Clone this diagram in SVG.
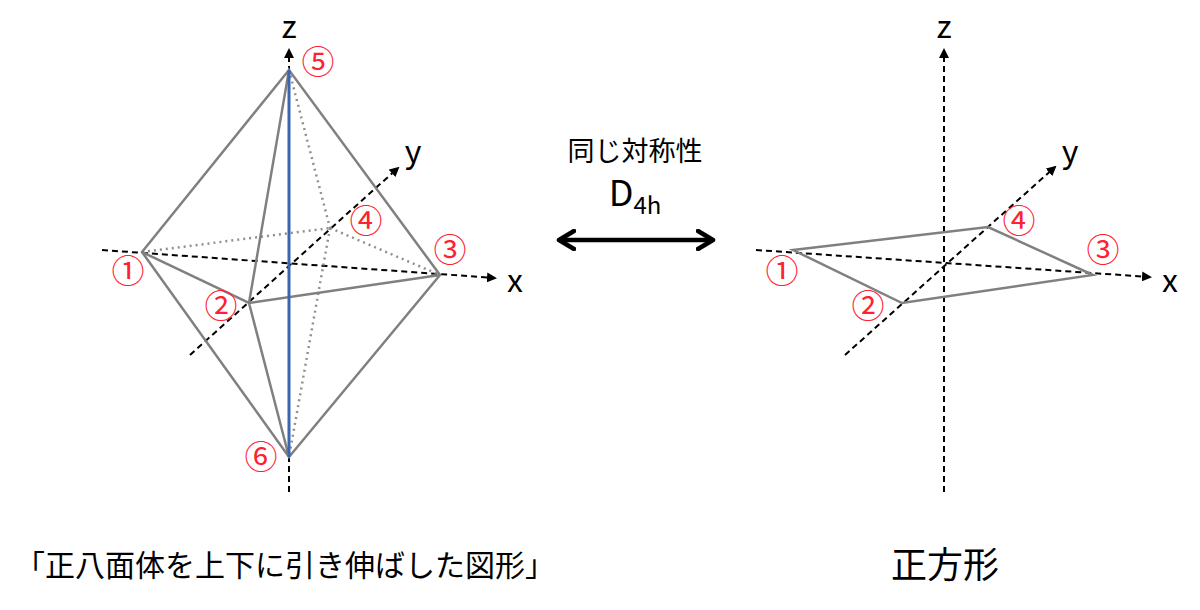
<svg xmlns="http://www.w3.org/2000/svg" width="1200" height="610" viewBox="0 0 1200 610">
<style>
text{font-family:"Noto Sans CJK JP","Noto Sans",sans-serif}
.ax{stroke:#000;stroke-width:2;stroke-dasharray:6,4;fill:none}
.e{stroke:#808080;stroke-width:2.5;fill:none}
.d{stroke:#909090;stroke-width:2.5;stroke-dasharray:2,4;fill:none}
.n{fill:#ff2030;font-size:33px;text-anchor:middle}
.a{fill:#000;font-size:32px;text-anchor:middle}
</style>
<defs>
<marker id="ah" markerWidth="10" markerHeight="10" refX="8" refY="5" orient="auto" markerUnits="userSpaceOnUse"><path d="M0,0L10,5L0,10z" fill="#000"/></marker>
<marker id="bh" markerWidth="20" markerHeight="22" refX="16" refY="11" orient="auto-start-reverse" markerUnits="userSpaceOnUse"><path d="M2,2L17,11L2,20" fill="none" stroke="#000" stroke-width="4.5" stroke-linecap="round" stroke-linejoin="round"/></marker>
</defs>
<g id="connectors">
<line class="ax" x1="102" y1="250" x2="495" y2="278" marker-end="url(#ah)"/>
<line class="ax" x1="190" y1="355" x2="398" y2="168" marker-end="url(#ah)"/>
<line class="ax" x1="289" y1="492" x2="289" y2="50" marker-end="url(#ah)"/>
<line class="d" x1="289" y1="70" x2="330" y2="228"/>
<line class="d" x1="330" y1="228" x2="289" y2="457"/>
<line class="d" x1="142" y1="252" x2="330" y2="228"/>
<line class="d" x1="330" y1="228" x2="440" y2="275"/>
<path class="e" d="M289,70L142,252L289,457L440,275L289,70L249,303L289,457M142,252L249,303L440,275"/>
<line x1="289" y1="70" x2="289" y2="457" stroke="#3a66b0" stroke-width="3"/>
<line class="ax" x1="756" y1="250" x2="1150" y2="277" marker-end="url(#ah)"/>
<line class="ax" x1="845" y1="355" x2="1055" y2="167" marker-end="url(#ah)"/>
<line class="ax" x1="944" y1="492" x2="944" y2="50" marker-end="url(#ah)"/>
<path class="e" d="M793,250L902,303L1093,275L988,227z"/>
<line x1="560" y1="240" x2="712" y2="240" stroke="#000" stroke-width="4.5" marker-start="url(#bh)" marker-end="url(#bh)"/>
</g>
<g id="labels-left">
<text class="a" x="289" y="38">z</text>
<text class="a" x="413" y="163">y</text>
<text class="a" x="515" y="292">x</text>
<text class="n" x="318" y="74">⑤</text>
<text class="n" x="366" y="233">④</text>
<text class="n" x="450" y="262">③</text>
<text class="n" x="128" y="283">①</text>
<text class="n" x="221" y="318">②</text>
<text class="n" x="261" y="469">⑥</text>
</g>
<g id="labels-right">
<text class="a" x="944" y="38">z</text>
<text class="a" x="1070" y="163">y</text>
<text class="a" x="1170" y="292">x</text>
<text class="n" x="1019" y="233">④</text>
<text class="n" x="1103" y="262">③</text>
<text class="n" x="782" y="283">①</text>
<text class="n" x="868" y="318">②</text>
</g>
<g id="middle">
<text x="635" y="161" font-size="27" text-anchor="middle">同じ対称性</text>
<text x="635" y="206" font-size="36" text-anchor="middle">D<tspan font-size="24" dy="8">4h</tspan></text>
</g>
<g id="captions">
<text x="285" y="576" font-size="30" text-anchor="middle">「正八面体を上下に引き伸ばした図形」</text>
<text x="945" y="578" font-size="36" text-anchor="middle">正方形</text>
</g>
</svg>
